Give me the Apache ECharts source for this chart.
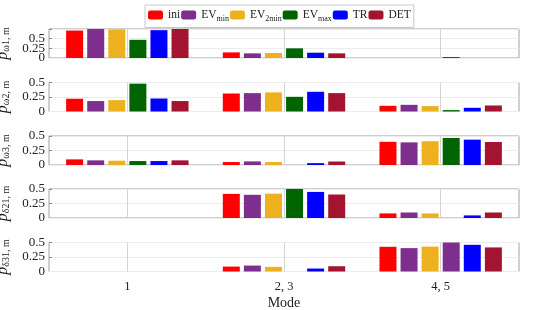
<!DOCTYPE html>
<html><head><meta charset="utf-8">
<script src="https://cdn.jsdelivr.net/npm/echarts@6/dist/echarts.min.js"></script>
<style>html,body{margin:0;padding:0;background:#fff}#c{width:550px;height:310px}</style>
</head><body><div id="c"></div>
<script>
// Categories (modes) on the x axis
const categories = ['1', '2, 3', '4, 5'];
// Series names (legend order)
const seriesNames = ['ini', 'EV_min', 'EV_2min', 'EV_max', 'TR', 'DET'];
// Panel (y-axis) titles: [symbol, subscript]
const panelLabels = [['p', 'ω1, m'], ['p', 'ω2, m'], ['p', 'ω3, m'], ['p', 'δ21, m'], ['p', 'δ31, m']];
// Y-axis maxima per panel, tick step
const panelMax = [0.75, 0.5, 0.5, 0.5, 0.5];
const yTickLabels = ['0', '0.25', '0.5'];

// Values: one row per series (ini, EVmin, EV2min, EVmax, TR, DET); columns = modes 1 | 2,3 | 4,5
const p_w1 = [
  [0.71, 0.145, 0], [0.80, 0.12, 0], [0.74, 0.13, 0],
  [0.47, 0.25, 0.025], [0.72, 0.137, 0], [0.80, 0.12, 0]
];
const p_w2 = [
  [0.22, 0.31, 0.098], [0.18, 0.317, 0.115], [0.196, 0.33, 0.093],
  [0.48, 0.253, 0.024], [0.224, 0.34, 0.064], [0.18, 0.317, 0.104]
];
const p_w3 = [
  [0.097, 0.051, 0.40], [0.08, 0.062, 0.39], [0.074, 0.051, 0.41],
  [0.068, 0, 0.466], [0.068, 0.032, 0.437], [0.08, 0.06, 0.397]
];
const p_d21 = [
  [0, 0.416, 0.079], [0, 0.40, 0.095], [0, 0.42, 0.079],
  [0, 0.50, 0], [0, 0.45, 0.045], [0, 0.405, 0.095]
];
const p_d31 = [
  [0, 0.085, 0.426], [0, 0.102, 0.403], [0, 0.08, 0.43],
  [0, 0, 0.50], [0, 0.051, 0.46], [0, 0.091, 0.415]
];
const panels = [p_w1, p_w2, p_w3, p_d21, p_d31];

// Styling
const colors = ['#ff0000', '#7e2f8e', '#edb120', '#006400', '#0000ff', '#a2142f'];
// In the original, the EV_max bar of the last panel at mode "4, 5" is drawn purple
const recolor = { panel: 4, series: 3, cat: 2, color: '#7e2f8e' };
const FONT = 'Liberation Serif';
const panelTops = [29, 82.5, 136, 189, 242.5];
const panelHeight = 29;

const tickText = v => { const k = Math.round(v / 0.25); return k < yTickLabels.length ? yTickLabels[k] : ''; };

const grids = [], xAxes = [], yAxes = [], series = [];
panels.forEach((pd, i) => {
  grids.push({ left: 49, right: 31, top: panelTops[i], height: panelHeight, show: true,
    containLabel: false, outerBoundsMode: 'none',
    borderColor: '#a0a0a0', borderWidth: 1, backgroundColor: '#fff' });
  const last = i === panels.length - 1;
  xAxes.push({
    type: 'category', gridIndex: i, data: categories,
    axisLine: { show: false },
    axisTick: { show: false },
    axisLabel: { show: last, color: '#222', fontFamily: FONT, fontSize: 12.5, margin: 9 },
    splitLine: { show: true, alignWithLabel: true, lineStyle: { color: '#d4d4d4', width: 1 } },
    name: last ? 'Mode' : '', nameLocation: 'middle', nameGap: 25,
    nameTextStyle: { color: '#222', fontFamily: FONT, fontSize: 14 }
  });
  // main y axis: non-zero tick labels, ticks, grid lines, name
  yAxes.push({
    type: 'value', gridIndex: i, min: 0, max: panelMax[i], interval: 0.25,
    axisLine: { show: false },
    axisTick: { show: true, inside: true, length: 3, lineStyle: { color: '#888' } },
    axisLabel: { color: '#222', fontFamily: FONT, fontSize: 13, margin: 4,
      hideOverlap: false, showMinLabel: false, showMaxLabel: true,
      formatter: v => v === 0 ? '' : tickText(v) },
    splitLine: { show: true, lineStyle: { color: '#ececec', width: 1 } },
    name: '{p|' + panelLabels[i][0] + '}{s|' + panelLabels[i][1] + '}',
    nameLocation: 'middle', nameRotate: 90, nameGap: 33,
    nameTextStyle: { color: '#222', fontFamily: FONT,
      rich: { p: { fontSize: 16, fontStyle: 'italic', fontFamily: FONT, color: '#222' },
              s: { fontSize: 10, fontFamily: FONT, color: '#222', padding: [8, 0, 0, 0] } } }
  });
});
// companion y axes carrying only the "0" label (avoids overlap-based hiding)
panels.forEach((pd, i) => {
  yAxes.push({
    type: 'value', gridIndex: i, position: 'left', min: 0, max: panelMax[i], interval: 0.25,
    axisLine: { show: false }, axisTick: { show: false }, splitLine: { show: false },
    axisLabel: { color: '#222', fontFamily: FONT, fontSize: 13, margin: 4,
      hideOverlap: false, showMinLabel: true, showMaxLabel: false,
      formatter: v => v === 0 ? tickText(v) : '' }
  });
});
panels.forEach((pd, i) => {
  pd.forEach((vals, s) => {
    series.push({
      type: 'bar', name: seriesNames[s], xAxisIndex: i, yAxisIndex: i,
      barWidth: 17, barGap: '24%', clip: true,
      itemStyle: { color: colors[s] },
      data: vals.map((v, c) => (recolor.panel === i && recolor.series === s && recolor.cat === c)
        ? { value: v, itemStyle: { color: recolor.color } } : v)
    });
  });
});

const chart = echarts.init(document.getElementById('c'), null, { renderer: 'canvas' });
chart.setOption({
  animation: false,
  color: colors,
  legend: {
    data: seriesNames, top: 5, left: 145,
    itemWidth: 15, itemHeight: 9, itemGap: 1,
    borderColor: '#c8c8c8', borderWidth: 1, padding: [4, 3, 5, 3],
    backgroundColor: '#fff',
    formatter: name => {
      if (name.indexOf('EV_') === 0) return '{n|EV}{s|' + name.slice(3) + '}';
      return '{n|' + name + '}';
    },
    textStyle: { fontFamily: FONT, color: '#222',
      rich: { n: { fontSize: 11.5, fontFamily: FONT, color: '#222' },
              s: { fontSize: 8, fontFamily: FONT, color: '#222', padding: [7, 0, 0, 0] } } }
  },
  grid: grids, xAxis: xAxes, yAxis: yAxes, series: series
});
</script></body></html>
